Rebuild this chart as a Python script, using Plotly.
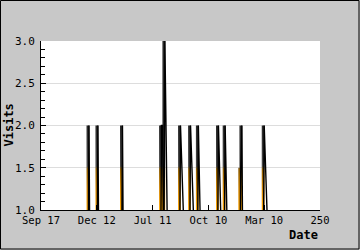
import plotly.graph_objects as go

# Data
spike_days = [43, 51, 73, 108, 109, 111, 125, 134, 141, 159, 165, 179, 180, 200]
spike_visits = [2, 2, 2, 2, 2, 3, 2, 2, 2, 2, 2, 1.5, 2, 2]
n_days = 251
tick_positions = [0, 50, 100, 150, 200, 250]
tick_labels = ["Sep 17", "Dec 12", "Jul 11", "Oct 10", "Mar 10", "250"]

days = list(range(n_days))
visits = [0] * n_days
for d, v in zip(spike_days, spike_visits):
    visits[d] = v

W, H = 360, 250
ML, MR, MT, MB = 41, 40, 41, 40
pw, ph = W - ML - MR, H - MT - MB

font = "DejaVu Sans Mono, monospace"

fig = go.Figure()
# gradient-filled body of each spike, one trace per spike
for d, v in zip(spike_days, spike_visits):
    fig.add_trace(go.Scatter(
        x=[d - 2.2, d - 2.2, d + 0.3, d + 0.3], y=[0, v, v, 0],
        mode="lines", line=dict(width=0, color="rgba(0,0,0,0)"),
        fill="toself",
        fillgradient=dict(type="vertical", start=1.0, stop=2.0,
                          colorscale=[[0, "#ffa500"], [0.25, "#d08400"],
                                      [0.48, "#8a5a00"], [0.52, "#484848"],
                                      [1, "#2a2a2a"]]),
        hoverinfo="skip", showlegend=False,
    ))
fig.add_trace(go.Scatter(
    x=days, y=visits, mode="lines",
    line=dict(color="#000000", width=1.4),
    hoverinfo="skip", showlegend=False,
))

fig.update_layout(
    width=W, height=H,
    margin=dict(l=ML, r=MR, t=MT, b=MB, pad=0),
    paper_bgcolor="#c8c8c8", plot_bgcolor="#ffffff",
    font=dict(family=font, size=11, color="#000000"),
    xaxis=dict(range=[0, 250], tickvals=tick_positions, ticktext=tick_labels,
               ticks="inside", ticklen=5, tickcolor="#000", showgrid=False,
               showline=True, linecolor="#000", linewidth=1, zeroline=False,
               tickfont=dict(family=font, size=10.5)),
    yaxis=dict(range=[1, 3], dtick=0.5, tickformat=".1f",
               ticks="inside", ticklen=5, tickcolor="#000",
               ticklabelstandoff=3,
               showgrid=True, gridcolor="#dddddd", gridwidth=1,
               showline=True, linecolor="#000", linewidth=1, zeroline=False,
               minor=dict(dtick=0.1, ticks="inside", ticklen=4, tickcolor="#000", showgrid=False),
               tickfont=dict(family=font, size=11)),
    annotations=[
        dict(text="<b>Date</b>", xref="paper", yref="paper", x=1.0, y=-(H - 15 - MT - ph) / ph,
             xanchor="right", yanchor="middle", showarrow=False,
             font=dict(family=font, size=12)),
        dict(text="<b>Visits</b>", xref="paper", yref="paper", x=-(ML - 8) / pw, y=0.5,
             xanchor="center", yanchor="middle", textangle=-90, showarrow=False,
             font=dict(family=font, size=12)),
    ],
    shapes=[
        dict(type="rect", xref="paper", yref="paper",
             x0=-(ML - 0.5) / pw, x1=1 + (MR - 1.0) / pw,
             y0=-(MB - 1.0) / ph, y1=1 + (MT - 0.5) / ph,
             line=dict(color="#000", width=1), fillcolor="rgba(0,0,0,0)", layer="above"),
    ],
)

fig.write_html("out.html")
